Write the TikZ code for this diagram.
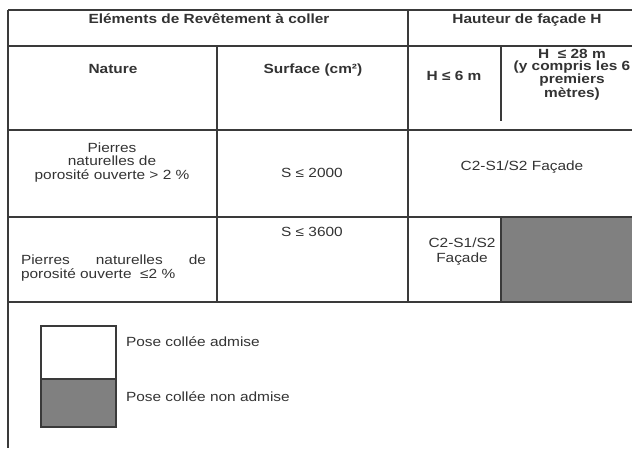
\documentclass[tikz,border=0pt]{standalone}
\usepackage{fontspec}
\setmainfont[FakeStretch=1.16]{Liberation Sans}
\definecolor{ink}{HTML}{333333}
\definecolor{rule}{HTML}{3A3A3A}
\definecolor{greyfill}{HTML}{808080}
\begin{document}
\begin{tikzpicture}[x=1pt,y=-1pt,
  gridline/.style={draw=rule, line width=1.2pt},
  txt/.style={inner sep=0pt, outer sep=0pt, text=ink, align=center, anchor=base,
    font=\fontsize{13.3}{13.6}\selectfont},
  btxt/.style={txt, font=\fontsize{13.3}{12.3}\selectfont\bfseries},
  mtxt/.style={txt, anchor=center},
  ltxt/.style={txt, anchor=base west, align=left}]
\useasboundingbox (0,0) rectangle (632,448);
\fill[white] (0,0) rectangle (632,448);
% shaded cell
\fill[greyfill] (501,217) rectangle (632,302);
% grid
\draw[gridline] (8,10) -- (632,10);
\draw[gridline] (8,10) -- (8,448);
\draw[gridline] (8,46) -- (632,46);
\draw[gridline] (8,130) -- (632,130);
\draw[gridline] (8,217) -- (632,217);
\draw[gridline] (8,302) -- (632,302);
\draw[gridline] (217,46) -- (217,302);
\draw[gridline] (408,10) -- (408,302);
\draw[gridline] (501,46) -- (501,121);
\draw[gridline] (501,217) -- (501,302);
% legend
\filldraw[fill=white, draw=rule, line width=1.2pt] (41,326) rectangle (116,379);
\filldraw[fill=greyfill, draw=rule, line width=1.2pt] (41,379) rectangle (116,427);
% texts
\node[btxt] (t1) at (209,23.3) {Eléments de Revêtement à coller};
\node[btxt] (t2) at (527,23.3) {Hauteur de façade H};
\node[btxt] (nat) at (113,73.8) {Nature};
\node[btxt] (surf) at (313,73.8) {Surface (cm²)};
\node[btxt] (h6) at (454,80) {H ≤ 6 m};
\node[btxt, anchor=center] (h28) at (572,74.5) {H\ \ ≤ 28 m\\(y compris les 6\\premiers\\mètres)};
\node[mtxt, font=\fontsize{13.3}{13.5}\selectfont] (p1) at (112,162.5) {Pierres\\naturelles de\\porosité ouverte > 2 \%};
\node[txt] (s1) at (312,177.7) {S ≤ 2000};
\node[txt] (c1) at (522,170.7) {C2-S1/S2 Façade};
\node[txt] (s2) at (312,236) {S ≤ 3600};
\node[mtxt, font=\fontsize{13.3}{14.5}\selectfont] (c2) at (462,251.5) {C2-S1/S2\\Façade};
\node[ltxt] (p2a) at (21,264.7) {\makebox[185pt][s]{Pierres naturelles de}};
\node[ltxt] (p2b) at (21,278.7) {porosité ouverte\ \ ≤2 \%};
\node[ltxt] (l1) at (126,346.7) {Pose collée admise};
\node[ltxt] (l2) at (126,401.7) {Pose collée non admise};
\end{tikzpicture}
\end{document}
